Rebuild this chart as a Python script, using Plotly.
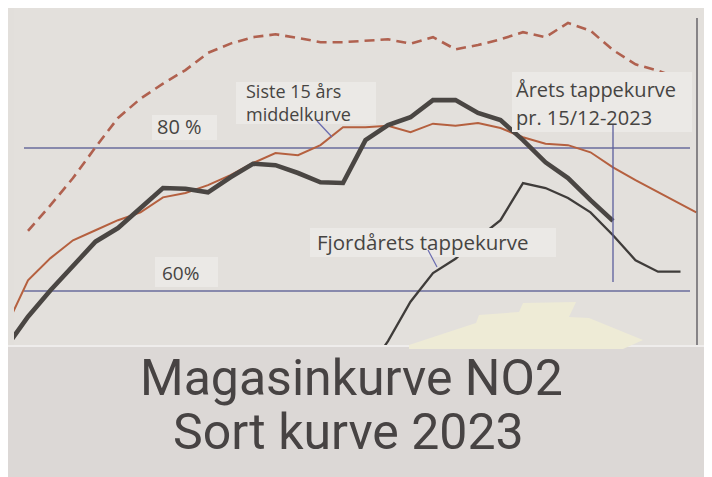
import plotly.graph_objects as go

# ---------------- data (week number, reservoir filling %) ----------------
weeks_2023 = [23, 24, 25, 26, 27, 28, 29, 30, 31, 32, 33, 34, 35, 36, 37, 38, 39, 40,
              41, 42, 43, 44, 45, 46, 47, 48, 49, 50]
fill_2023 = [52.0, 56.4, 60.1, 63.6, 66.9, 68.8, 71.7, 74.4, 74.3, 73.8, 75.9, 77.8, 77.6,
             76.5, 75.2, 75.1, 81.1, 83.2, 84.3, 86.7, 86.7, 84.9, 83.9, 81.1, 78.0, 75.8,
             72.7, 69.8]

weeks_median = [23, 24, 25, 26, 27, 28, 29, 30, 31, 32, 33, 34, 35, 36, 37, 38, 39, 40,
                41, 42, 43, 44, 45, 46, 47, 48, 49, 50, 51, 52, 53, 53.7]
fill_median = [54.8, 61.5, 64.6, 67.1, 68.5, 69.9, 71.0, 73.1, 73.7, 74.8, 76.2, 77.9, 79.3,
               79.0, 80.4, 82.9, 82.9, 83.1, 82.2, 83.4, 83.1, 83.5, 82.8, 81.5, 80.6, 80.4,
               79.4, 77.3, 75.5, 73.8, 72.2, 71.0]

weeks_max = [24, 25, 26, 27, 28, 29, 30, 31, 32, 33, 34, 35, 36, 37, 38, 39, 40, 41, 42,
             43, 44, 45, 46, 47, 48, 49, 50, 51, 52, 53]
fill_max = [68.4, 72.0, 75.8, 80.1, 84.2, 86.9, 89.0, 90.9, 93.3, 94.6, 95.5, 95.9, 95.4,
            94.8, 94.8, 95.0, 95.2, 94.6, 95.5, 93.8, 94.4, 95.2, 96.2, 95.5, 97.5, 96.4,
            93.7, 91.7, 90.8, 89.7]

weeks_2022 = [39, 40, 41, 42, 43, 44, 45, 46, 47, 48, 49, 50, 51, 52, 53]
fill_2022 = [48.3, 53.0, 58.5, 62.5, 64.5, 67.4, 69.9, 75.1, 74.4, 73.0, 71.0, 67.8, 64.3,
             62.7, 62.7]

ref_levels = [80, 60]
ref_labels = ["80 %", "60%"]
marker_week = 50  # 15/12-2023

# ---------------- layout geometry helpers (target pixel -> axis / paper units) ----------------
OFF = 8                      # the page body adds an 8 px margin
W, H = 712, 477
L, T, PB = 14, 8, 345        # plot area left, top, bottom (target pixels)
PW, PH = W - L, PB - T


def wk(px):
    return 50 + (px - 613) / 22.5


def pc(py):
    return 80 + (148 - py) / 7.15


def PX(px):
    return (px - L) / PW


def PY(py):
    return (PB - py) / PH


fig = go.Figure()

fig.add_trace(go.Scatter(x=weeks_max, y=fill_max, mode="lines",
                         line=dict(color="#b0614f", width=2.6, dash="10px,6px"),
                         hoverinfo="skip"))
fig.add_trace(go.Scatter(x=weeks_median, y=fill_median, mode="lines",
                         line=dict(color="#b5603f", width=2.0),
                         hoverinfo="skip"))
fig.add_trace(go.Scatter(x=weeks_2022, y=fill_2022, mode="lines",
                         line=dict(color="#3f3c3a", width=2.3),
                         hoverinfo="skip"))
fig.add_trace(go.Scatter(x=weeks_2023, y=fill_2023, mode="lines",
                         line=dict(color="#4a4643", width=4.6),
                         hoverinfo="skip"))

shapes = []
# second sheet of paper for the title
shapes.append(dict(type="rect", xref="paper", yref="paper", x0=PX(OFF), x1=PX(W + 10),
                   y0=PY(PB), y1=PY(H + 10), fillcolor="#dcd8d6", line=dict(width=0),
                   layer="below"))
shapes.append(dict(type="line", xref="paper", yref="paper", x0=PX(OFF), x1=PX(W),
                   y0=PY(346), y1=PY(346), line=dict(color="#efedec", width=2),
                   layer="below"))

# masking tape on the paper edge
tape = [(409, 345), (476, 323), (479, 315), (519, 312), (523, 303), (576, 302),
        (569, 317), (589, 318), (643, 340), (623, 349), (409, 349)]
path = "M " + " L ".join(f"{PX(x):.4f},{PY(y):.4f}" for x, y in tape) + " Z"
shapes.append(dict(type="path", xref="paper", yref="paper", path=path,
                   fillcolor="#eeebd6", line=dict(width=0), layer="above"))

# reference lines 80 % / 60 %
for lvl in ref_levels:
    shapes.append(dict(type="line", xref="x", yref="y", x0=wk(24), x1=wk(690),
                       y0=lvl, y1=lvl, line=dict(color="#6a6c9c", width=1.3),
                       layer="below"))

# right frame line
shapes.append(dict(type="line", xref="x", yref="y", x0=wk(697), x1=wk(697),
                   y0=pc(345), y1=pc(18), line=dict(color="#555258", width=1.3)))

# label boxes (paper strips)
boxes = [(152, 115, 217, 140), (155, 257, 218, 287), (236, 82, 376, 124),
         (512, 72, 692, 132), (310, 228, 556, 257)]
for x0, y0, x1, y1 in boxes:
    shapes.append(dict(type="rect", xref="x", yref="y", x0=wk(x0), x1=wk(x1),
                       y0=pc(y1), y1=pc(y0), fillcolor="#ebe9e6",
                       line=dict(width=0), layer="above"))

# marker for 15/12-2023
shapes.append(dict(type="line", xref="x", yref="y", x0=marker_week, x1=marker_week,
                   y0=pc(282), y1=pc(124), line=dict(color="#5b5f9c", width=1.3),
                   layer="above"))
# leader lines
shapes.append(dict(type="line", xref="x", yref="y", x0=wk(317), x1=wk(332),
                   y0=pc(121), y1=pc(137), line=dict(color="#6a6cb0", width=1.2),
                   layer="above"))
shapes.append(dict(type="line", xref="x", yref="y", x0=wk(428), x1=wk(437),
                   y0=pc(250), y1=pc(267), line=dict(color="#6a6cb0", width=1.2),
                   layer="above"))

lab_font = dict(family="'Open Sans', sans-serif", color="#464442")
ann = []


def label(text, px, py, size):
    ann.append(dict(x=wk(px), y=pc(py), xref="x", yref="y", text=text,
                    showarrow=False, xanchor="left", yanchor="middle", borderpad=0,
                    align="left", font=dict(size=size, **lab_font)))


label(ref_labels[0], 156, 126, 20)
label(ref_labels[1], 161, 273, 19)
label("Siste 15 års<br>middelkurve", 245, 102, 18)
label("Årets tappekurve", 515, 89, 20)
label("pr. 15/12-2023", 515, 117, 20)
label("Fjordårets tappekurve", 316, 242, 20.5)

title_font = dict(family="Roboto, sans-serif", size=50, color="#474343")
ann.append(dict(x=PX(351), y=PY(378), xref="paper", yref="paper",
                text="Magasinkurve NO2", showarrow=False, xanchor="center",
                yanchor="middle", font=title_font))
ann.append(dict(x=PX(348), y=PY(432), xref="paper", yref="paper",
                text="Sort kurve 2023", showarrow=False, xanchor="center",
                yanchor="middle", font=title_font))

fig.update_layout(
    width=W - OFF, height=H - OFF,
    margin=dict(l=L - OFF, r=0, t=T - OFF, b=H - PB, pad=0),
    paper_bgcolor="#e2dfdb", plot_bgcolor="#e3e0dc",
    showlegend=False,
    xaxis=dict(range=[wk(L), wk(W)], visible=False, fixedrange=True),
    yaxis=dict(range=[pc(PB), pc(T)], visible=False, fixedrange=True),
    shapes=shapes, annotations=ann,
)

fig.write_html("out.html")
